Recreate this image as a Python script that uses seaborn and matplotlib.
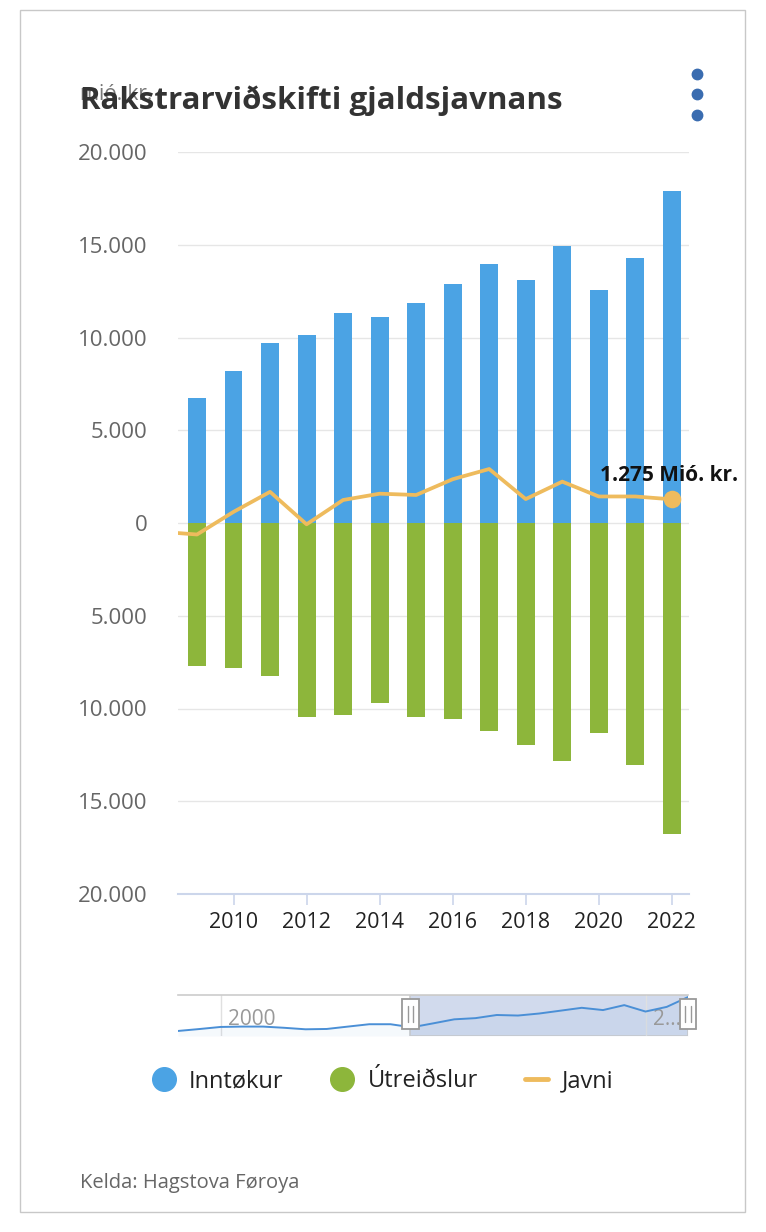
import matplotlib
matplotlib.use("Agg")
import matplotlib.pyplot as plt
import matplotlib.transforms as mtransforms
from matplotlib.lines import Line2D
from matplotlib.patches import Rectangle
from matplotlib.ticker import FuncFormatter
import seaborn as sns

# data (mió. kr.)
years = [2009, 2010, 2011, 2012, 2013, 2014, 2015, 2016, 2017, 2018, 2019, 2020, 2021, 2022]
inntokur = [6750, 8200, 9700, 10140, 11300, 11100, 11850, 12900, 13960, 13120, 14950, 12580, 14300, 17920]
utreidslur = [-7690, -7820, -8230, -10480, -10370, -9720, -10480, -10590, -11210, -11970, -12820, -11330, -13030, -16760]
javni_years = [2008, 2009, 2010, 2011, 2012, 2013, 2014, 2015, 2016, 2017, 2018, 2019, 2020, 2021, 2022]
javni = [-470, -620, 600, 1680, -70, 1240, 1580, 1510, 2360, 2910, 1290, 2230, 1430, 1430, 1275]

# navigator series (Inntøkur over the full range)
nav_years = list(range(1998, 2023))
nav_early = [5400, 6110, 6880, 7020, 7020, 6570, 6020, 6140, 7020, 7890, 7890]
nav_values = nav_early + inntokur
nav_tick_years = [2000, 2020]
nav_tick_labels = ["2000", "2\u2026"]
nav_selection = (2008.94, 2022)

BLUE = "#4ba3e4"
GREEN = "#8db63b"
ORANGE = "#eebb5d"

sns.set_style("white")
plt.rcParams['font.family'] = ['Open Sans', 'DejaVu Sans']

W, H = 766, 1232
fig = plt.figure(figsize=(W / 100, H / 100), dpi=100)


def fmt(v, pos=None):
    return f"{abs(v):,.0f}".replace(",", ".")


# main chart
ax = fig.add_axes([178 / W, 1 - 894 / H, 511 / W, 742 / H])
ax.set_axisbelow(True)
sns.barplot(x=years, y=inntokur, native_scale=True, width=0.49, color=BLUE,
            saturation=1, errorbar=None, ax=ax, linewidth=0)
sns.barplot(x=years, y=utreidslur, native_scale=True, width=0.49, color=GREEN,
            saturation=1, errorbar=None, ax=ax, linewidth=0)
sns.lineplot(x=javni_years, y=javni, color=ORANGE, linewidth=2.7, ax=ax, zorder=3)
ax.scatter([javni_years[-1]], [javni[-1]], s=160, color=ORANGE, zorder=4,
           clip_on=False, linewidths=0)
ax.annotate(fmt(javni[-1]) + " Mió. kr.", xy=(javni_years[-1], javni[-1]),
            xytext=(-2, 17), textcoords="offset points", ha="center", va="center",
            fontsize=15, fontweight="bold", color="#111", annotation_clip=False)

ax.set_xlim(2008.48, 2022.47)
ax.set_ylim(-20000, 20000)
ax.set_yticks(range(-20000, 20001, 5000))
ax.yaxis.set_major_formatter(FuncFormatter(fmt))
ax.set_xticks(list(range(2010, 2023, 2)))
ax.set_xticklabels([str(y) for y in range(2010, 2023, 2)])
ax.yaxis.grid(True, color="#e6e6e6", linewidth=1)
ax.xaxis.grid(False)
for side in ["top", "right", "left"]:
    ax.spines[side].set_visible(False)
ax.spines["bottom"].set_color("#ccd6eb")
ax.spines["bottom"].set_linewidth(1.5)
ax.tick_params(axis="x", direction="out", length=8, width=1.2, color="#ccd6eb",
               labelsize=15.5, labelcolor="#222", pad=5, bottom=True)
ax.tick_params(axis="y", length=0, labelsize=16, labelcolor="#666", pad=22)
ax.set_xlabel("")
ax.set_ylabel("")

# navigator
nav = fig.add_axes([178 / W, 1 - 1036 / H, 510 / W, 41 / H])
nav.set_xlim(nav_years[0], nav_years[-1])
nav.set_ylim(3540, 18690)
trans = mtransforms.blended_transform_factory(nav.transData, nav.transAxes)
nav.add_patch(Rectangle((nav_selection[0], 0), nav_selection[1] - nav_selection[0], 1,
                        transform=trans, facecolor="#d1daed", edgecolor="#cccccc",
                        linewidth=1.2, zorder=1))
nav.fill_between(nav_years, nav_values, 3540, color="#4a8fd6", alpha=0.05, zorder=2, lw=0)
sns.lineplot(x=nav_years, y=nav_values, color="#4a8fd6", linewidth=1.4, ax=nav, zorder=3)
for yr, lab in zip(nav_tick_years, nav_tick_labels):
    nav.axvline(yr, color="#e0e0e0", linewidth=1, zorder=1.5)
    nav.text(yr + 0.35, 0.4, lab, transform=trans, color="#999", fontsize=15,
             va="center", ha="left", zorder=2.5)
for x in nav_selection:
    nav.add_patch(Rectangle((x - 0.4, 0.16), 0.8, 0.74, transform=trans,
                            facecolor="white", edgecolor="#999999", linewidth=1.3,
                            zorder=5, clip_on=False))
    for dx in (-0.12, 0.12):
        nav.add_line(Line2D([x + dx, x + dx], [0.35, 0.72], transform=trans,
                            color="#999999", linewidth=1, zorder=6, clip_on=False))
nav.set_xticks([])
nav.set_yticks([])
nav.set_xlabel("")
nav.set_ylabel("")
for side in ["bottom", "right", "left"]:
    nav.spines[side].set_visible(False)
nav.spines["top"].set_color("#cccccc")
nav.spines["top"].set_linewidth(1.2)

# titles and texts
fig.text(80 / W, 1 - 95 / H, "mió. kr.", color="#777", fontsize=15, va="center")
fig.text(80 / W, 1 - 101 / H, "Rakstrarviðskifti gjaldsjavnans", color="#333",
         fontsize=22.5, fontweight="bold", va="center")
fig.text(80 / W, 1 - 1183 / H, "Kelda: Hagstova Føroya", color="#666", fontsize=14.5,
         va="center")

# menu dots
fig.add_artist(Line2D([697 / W] * 3, [1 - 74 / H, 1 - 94 / H, 1 - 115 / H],
                      transform=fig.transFigure, marker="o", linestyle="none",
                      markersize=7.5, color="#3a6cb0"))

# outer frame
fig.add_artist(Rectangle((20 / W, 1 - 1212 / H), 725 / W, 1202 / H,
                         transform=fig.transFigure, fill=False,
                         edgecolor="#c8c8c8", linewidth=1))

# legend
handles = [
    Line2D([], [], marker="o", linestyle="none", markersize=17, color=BLUE),
    Line2D([], [], marker="o", linestyle="none", markersize=17, color=GREEN),
    Line2D([], [], color=ORANGE, linewidth=3.5),
]
fig.legend(handles, ["Inntøkur", "Útreiðslur", "Javni"], loc="center",
           bbox_to_anchor=(0.5, 1 - 1081 / H), ncol=3, frameon=False,
           fontsize=17, handlelength=0.95, handletextpad=0.6, columnspacing=2.0,
           labelcolor="#222")

fig.savefig("out.png", dpi=100)
